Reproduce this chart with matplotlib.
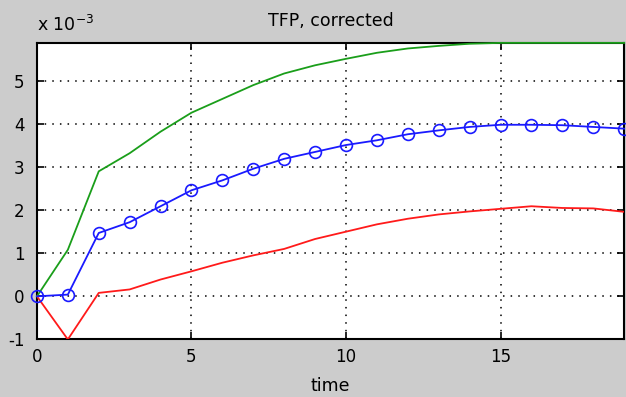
import numpy as np
import matplotlib.pyplot as plt

# impulse responses, in units of 1e-3
periods = np.arange(20)
blue_vals = [0.00, 0.04, 1.47, 1.72, 2.09, 2.46, 2.69, 2.96, 3.19, 3.35,
             3.51, 3.62, 3.76, 3.85, 3.93, 3.98, 3.98, 3.97, 3.93, 3.89]
green_vals = [0.00, 1.08, 2.90, 3.32, 3.82, 4.26, 4.58, 4.90, 5.17, 5.36,
              5.51, 5.65, 5.75, 5.81, 5.86, 5.88, 5.88, 5.88, 5.88, 5.88]
red_vals = [0.00, -1.00, 0.08, 0.16, 0.39, 0.58, 0.78, 0.95, 1.10, 1.33,
            1.50, 1.67, 1.80, 1.90, 1.97, 2.03, 2.09, 2.05, 2.04, 1.96]

x_ticks = [0, 5, 10, 15]
y_ticks = [-1, 0, 1, 2, 3, 4, 5]

plt.rcParams['font.family'] = ['DejaVu Sans']
plt.rcParams['mathtext.default'] = 'regular'
plt.rcParams['axes.unicode_minus'] = False

fig = plt.figure(figsize=(6.26, 3.97), dpi=100, facecolor='#cccccc')
ax = fig.add_axes([0.059, 0.145, 0.938, 0.747])

ax.plot(periods, green_vals, color='#1a9e1a', lw=1.3, zorder=3, clip_on=False)
ax.plot(periods, red_vals, color='#ff1a1a', lw=1.3, zorder=3)
ax.plot(periods, blue_vals, color='#1a1aff', lw=1.3, marker='o', ms=8.5,
        mfc='none', mec='#1a1aff', mew=1.2, zorder=4, clip_on=False)

ax.set_xlim(0, 19)
ax.set_ylim(-1, max(green_vals))
ax.set_xticks(x_ticks)
ax.set_yticks(y_ticks)
ax.tick_params(direction='in', length=5, width=1.2, labelsize=12,
               top=True, right=True, pad=6)
ax.tick_params(axis='y', pad=9)
ax.grid(True, color='black', linestyle=(0, (1, 4)), lw=1.1)
for sp in ax.spines.values():
    sp.set_linewidth(1.5)

ax.set_title('TFP, corrected', fontsize=12.5, pad=12)
ax.set_xlabel('time', fontsize=12.5, labelpad=8)
ax.text(0.0, 1.025, r'x 10$^{-3}$', transform=ax.transAxes, fontsize=12.5,
        ha='left', va='bottom')

fig.savefig('out.png', dpi=100, facecolor=fig.get_facecolor())
